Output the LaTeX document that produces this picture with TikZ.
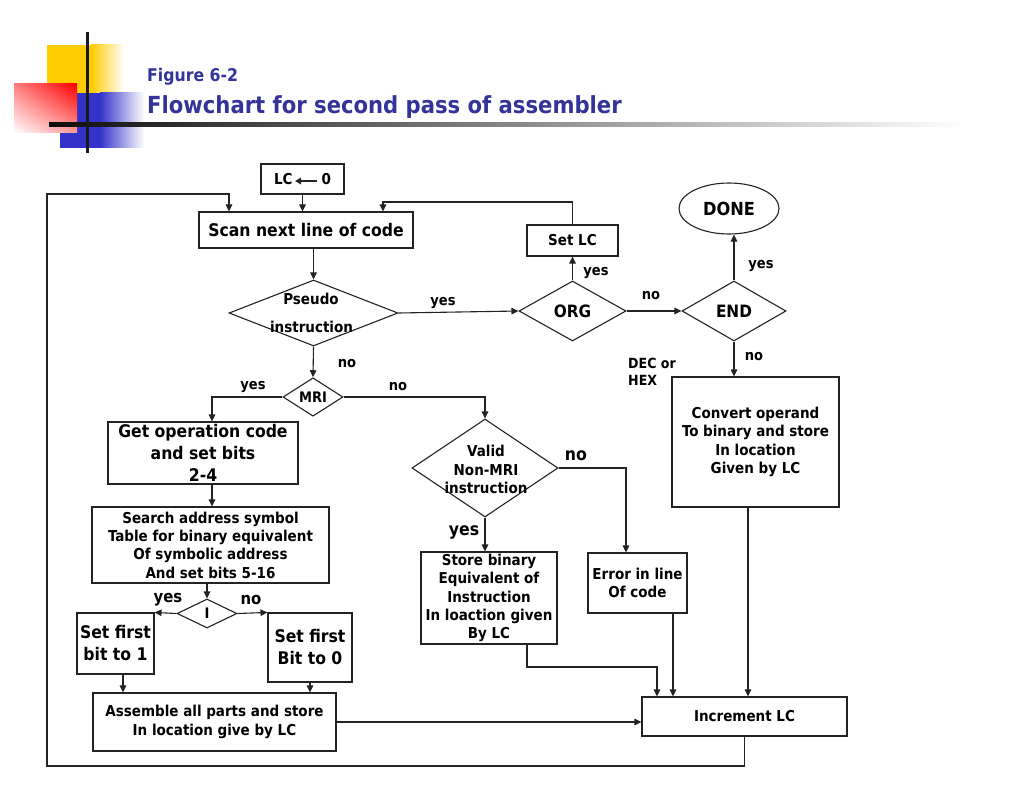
\documentclass[tikz,border=0pt]{standalone}
\usepackage{fontspec}
\setmainfont{DejaVu Sans Condensed}
\usetikzlibrary{arrows.meta,shapes.geometric,shadings}
\definecolor{titleblue}{RGB}{51,51,153}
\definecolor{lineclr}{RGB}{35,35,35}
\definecolor{yellowc}{RGB}{255,204,0}
\definecolor{bluec}{RGB}{51,51,204}
\newcommand{\fpx}[2]{\fontsize{#1pt}{#2pt}\selectfont\bfseries}
\tikzset{
  base/.style={draw=lineclr, line width=1.1pt, inner sep=0pt},
  box/.style={base, rectangle, align=center},
  dia/.style={base, diamond},
  flow/.style={draw=lineclr, line width=1.1pt, -{Triangle[length=7pt,width=6.5pt]}},
  plain/.style={draw=lineclr, line width=1.1pt},
  lbl/.style={inner sep=0pt, font=\fpx{14.5}{17}},
  biglbl/.style={inner sep=0pt, font=\fpx{17.5}{20}},
}
\begin{document}
\begin{tikzpicture}[x=1pt,y=-1pt]
\useasboundingbox (0,0) rectangle (1024,786);
\fill[white] (0,0) rectangle (1024,786);
% ---------- logo ----------
\fill[yellowc] (47,45) rectangle (91,93);
\shade[left color=yellowc, right color=white] (91,45) rectangle (124,93);
\fill[bluec] (60,93) rectangle (100,148);
\shade[left color=bluec, right color=white] (100,93) rectangle (144,148);
\shade[upper left=red!50, upper right=red, lower left=white, lower right=red!40] (14,84) rectangle (77,133);
\shade[left color=black!95, middle color=black!45, right color=white] (49,123) rectangle (965,127);
\draw[line width=3pt, black!90] (87,32) -- (87,153);
% ---------- title ----------
\node[anchor=base west, inner sep=0pt, text=titleblue, font=\fpx{17.5}{22}] (fig) at (147,82) {Figure 6-2};
\node[anchor=base west, inner sep=0pt, text=titleblue, font=\fpx{23.5}{28}] (ttl) at (147,114) {Flowchart for second pass of assembler};
% ---------- nodes ----------
\node[box, minimum width=83pt, minimum height=30pt, font=\fpx{15}{17}] (lc) at (302.5,179) {LC\hspace{29pt}0};
\draw[line width=1.6pt, lineclr, -{Triangle[length=6pt,width=6.5pt]}] ([xshift=14pt,yshift=-2pt]lc.center) -- ([xshift=-7.5pt,yshift=-2pt]lc.center);
\node[box, minimum width=214pt, minimum height=36pt, font=\fpx{17.4}{19}] (scan) at (306,230) {Scan next line of code};
\node[dia, minimum width=169pt, minimum height=66pt] (pseudo) at (313.5,313) {};
\node[lbl, font=\fpx{15}{17}] (pseudot1) at (311,299) {Pseudo};
\node[lbl, font=\fpx{15}{17}] (pseudot2) at (311.5,327) {instruction};
\node[dia, minimum width=107pt, minimum height=60pt, font=\fpx{17}{20}] (org) at (572.5,311) {ORG};
\node[box, minimum width=91pt, minimum height=31pt, font=\fpx{15}{17}] (setlc) at (572.5,240.5) {Set LC};
\node[dia, minimum width=104pt, minimum height=60pt, font=\fpx{17}{20}] (end) at (734,311) {END};
\node[base, ellipse, minimum width=100pt, minimum height=51pt, font=\fpx{18}{20}] (done) at (729,208.5) {DONE};
\node[dia, minimum width=60pt, minimum height=36pt, font=\fpx{14.5}{16}] (mri) at (313,397) {MRI};
\node[box, minimum width=190pt, minimum height=62pt, font=\fpx{17.4}{22}] (get) at (203,453) {Get operation code\\and set bits\\2-4};
\node[box, minimum width=237pt, minimum height=76pt, font=\fpx{15}{18.3}] (search) at (210.5,545) {Search address symbol\\Table for binary equivalent\\Of symbolic address\\And set bits 5-16};
\node[dia, minimum width=60pt, minimum height=29pt, font=\fpx{14.5}{16}] (idec) at (207,613.5) {I};
\node[box, minimum width=77pt, minimum height=61pt, font=\fpx{17.4}{22}] (set1) at (115.5,643.5) {Set first\\bit to 1};
\node[box, minimum width=84pt, minimum height=69pt, font=\fpx{17.4}{22}] (set0) at (310,647.5) {Set first\\Bit to 0};
\node[box, minimum width=243pt, minimum height=58pt, font=\fpx{15}{19}] (assemble) at (214.5,722) {Assemble all parts and store\\In location give by LC};
\node[dia, minimum width=146pt, minimum height=98pt] (valid) at (485,468) {};
\node[lbl, font=\fpx{15}{17}] (validt1) at (486,451) {Valid};
\node[lbl, font=\fpx{15}{17}] (validt2) at (486,470) {Non-MRI};
\node[lbl, font=\fpx{15}{17}] (validt3) at (486,488) {instruction};
\node[box, minimum width=136pt, minimum height=92pt, font=\fpx{15}{18.25}] (store) at (489,598) {Store binary\\Equivalent of\\Instruction\\In loaction given\\By LC};
\node[box, minimum width=99pt, minimum height=60pt, font=\fpx{15}{18}] (error) at (637.5,583) {Error in line\\Of code};
\node[box, minimum width=167pt, minimum height=130pt, font=\fpx{15}{18.3}] (convert) at (755.5,442) {Convert operand\\To binary and store\\In location\\Given by LC};
\node[box, minimum width=205pt, minimum height=39pt, font=\fpx{15}{18}] (inc) at (744.5,716.5) {Increment LC};
% ---------- labels ----------
\node[lbl] (l1) at (443,303) {yes};
\node[lbl] (l2) at (596,273) {yes};
\node[lbl] (l3) at (651,296) {no};
\node[lbl] (l4) at (761,266) {yes};
\node[lbl] (l5) at (754,357) {no};
\node[lbl, anchor=west, align=left, font=\fpx{14}{17}] (l6) at (628,371.5) {DEC or\\HEX};
\node[lbl] (l7) at (347,364) {no};
\node[lbl] (l8) at (253,387) {yes};
\node[lbl] (l9) at (398,387) {no};
\node[biglbl] (l10) at (576,456) {no};
\node[biglbl] (l11) at (464,532) {yes};
\node[lbl, font=\fpx{16.5}{19}] (l12) at (168,600) {yes};
\node[lbl, font=\fpx{16.5}{19}] (l13) at (251,600) {no};
% ---------- loop coordinates ----------
\coordinate (lb) at (47,766);
\coordinate (lt) at (47,194);
\coordinate (la) at (229,194);
\coordinate (ra) at (383,202);
\coordinate (sb) at (657,667);
% ---------- connectors ----------
\draw[flow] (lc.south) -- (lc.south |- scan.north);
\draw[flow] (inc.south) |- (lb) -- (lt) -- (la) -- (la |- scan.north);
\draw[flow] (setlc.north) |- (ra) -- (ra |- scan.north);
\draw[flow] (pseudo.north |- scan.south) -- (pseudo.north);
\draw[flow] (pseudo.east) -- (org.west);
\draw[flow] (org.north) -- (setlc.south);
\draw[flow] (org.east) -- (end.west);
\draw[flow] (end.north) -- (end.north |- done.south);
\draw[flow] (end.south) -- (end.south |- convert.north);
\draw[flow] (pseudo.south) -- (mri.north);
\draw[flow] (mri.west) -| ([xshift=9pt]get.north);
\draw[flow] (mri.east) -| (valid.north);
\draw[flow] ([xshift=9pt]get.south) -- ([xshift=9pt]get.south |- search.north);
\draw[flow] (idec.north |- search.south) -- (idec.north);
\draw[flow] (idec.west) -- (set1.north east);
\draw[flow] (idec.east) -- (set0.north west);
\draw[flow] ([xshift=7.5pt]set1.south) -- ([xshift=7.5pt]set1.south |- assemble.north);
\draw[flow] (set0.south) -- (set0.south |- assemble.north);
\draw[flow] (assemble.east) -- (assemble.east -| inc.west);
\draw[flow] (valid.east) -| ([xshift=-11.5pt]error.north);
\draw[flow] (valid.south) -- (valid.south |- store.north);
\draw[flow] ([xshift=38pt]store.south) |- (sb) -- (sb |- inc.north);
\draw[flow] ([xshift=35.5pt]error.south) -- ([xshift=35.5pt]error.south |- inc.north);
\draw[flow] ([xshift=-7.5pt]convert.south) -- ([xshift=-7.5pt]convert.south |- inc.north);
\end{tikzpicture}
\end{document}
